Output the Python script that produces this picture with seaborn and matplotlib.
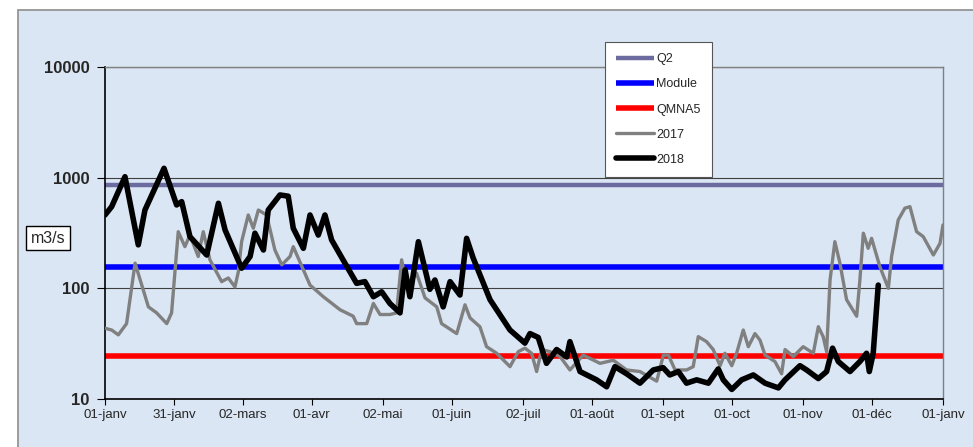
import numpy as np
import pandas as pd
import matplotlib
matplotlib.use("Agg")
import matplotlib.pyplot as plt
from matplotlib.patches import Rectangle
import seaborn as sns

# ===============================
# Data
# ===============================
Q2 = 850
MODULE = 157
QMNA5 = 24.3

tick_days = [0, 30, 60, 90, 121, 151, 182, 212, 243, 273, 304, 334, 365]
tick_labels = ["01-janv", "31-janv", "02-mars", "01-avr", "02-mai", "01-juin",
               "02-juil", "01-août", "01-sept", "01-oct", "01-nov", "01-déc", "01-janv"]

days_2018 = [0, 2.9, 8.7, 14.5, 17.4, 25.7, 31.2, 33.4, 37, 44.3, 49.4, 52.3,
             59.5, 63.2, 65.3, 69, 71.1, 76.2, 79.8, 82, 86.4, 89.3, 92.9, 95.8,
             98.7, 104.5, 109.6, 113.2, 116.9, 120.5, 124.1, 128.5, 130.7, 132.8,
             136.5, 141.5, 143.7, 147.3, 150.3, 154.6, 157.5, 160.4, 167.7, 176.4,
             182.9, 185.1, 188.7, 192.3, 196.7, 201.1, 202.5, 206.9, 214.1, 218.5,
             222.1, 227.2, 233, 238.8, 243.1, 246, 249.7, 253.3, 257.7, 262.8,
             267.1, 269.3, 273, 277.3, 282.4, 287.5, 293.3, 296.2, 302.7, 305.6,
             310.7, 314.3, 316.9, 319.4, 324.5, 328.8, 331.7, 332.9, 334.6, 336.8]
flow_2018 = [460, 547, 1020, 247, 510, 1215, 567, 607, 293, 200, 587, 337,
             152, 194, 315, 222, 510, 698, 680, 349, 230, 460, 303, 460,
             274, 169, 111, 115, 84, 93, 73, 60, 147, 84,
             264, 98, 119, 68, 115, 87, 283, 187, 79, 42,
             32, 39, 36, 21, 28, 24, 33, 17.7, 14.9, 12.9,
             19.6, 16.9, 13.9, 18.3, 19.2, 16.5, 17.7, 13.9, 14.9, 13.9,
             18.7, 14.9, 12.2, 14.9, 16.5, 13.9, 12.6, 14.9, 20, 18.3,
             15.3, 17.7, 28.8, 21.8, 17.7, 21.8, 25.9, 17.7, 25.9, 107]

days_2017 = [0, 2.9, 5.8, 9.4, 13.1, 18.9, 22.5, 26.9, 29, 31.9, 34.8, 37, 40.6,
             42.8, 45.7, 50.8, 53.7, 56.6, 58.1, 59.5, 62.4, 64.6, 66.8, 70.4, 74,
             77, 80.6, 82, 89.3, 95.1, 102.4, 108.1, 109.6, 114, 116.9, 119.8,
             124.1, 127, 129.2, 131.4, 135.7, 139.4, 144.5, 146.6, 153.2, 156.8,
             159, 163.3, 166.2, 170.6, 176.4, 180, 182.9, 185.8, 188, 190.2, 193.8,
             198.2, 202.5, 208.3, 215.6, 221.4, 227.2, 233, 240.3, 243.2, 245.4,
             248.3, 253.3, 256.2, 258.4, 262, 264.9, 267.9, 270, 273, 275.1, 278,
             280.2, 283.1, 285.3, 287.5, 291.8, 294.7, 296.2, 299.8, 304.1, 308.5,
             310.7, 312.8, 314.3, 315.8, 317.9, 320.1, 323, 327.4, 328.8, 330.3,
             332.4, 333.9, 337.5, 341.2, 342.6, 345.5, 348.4, 350.6, 353.5, 356.4,
             360.8, 363.7, 365]
flow_2017 = [43.6, 42, 38, 48, 169, 68, 60, 48, 60, 325, 238, 303, 194,
             325, 181, 115, 124, 103, 142, 264, 460, 349, 510, 460, 222,
             163, 194, 238, 107, 84, 64, 56, 48, 48, 73, 58,
             58, 60, 181, 103, 137, 82, 68, 48, 39, 71,
             54, 45, 29.7, 25.9, 19.6, 26.8, 28.8, 25.9, 17.7, 28, 26.8,
             24.2, 18.3, 24.9, 21, 22.4, 18.3, 17.7, 14.5, 24.9, 24.9,
             18.3, 18.3, 19.6, 36.6, 33, 28, 20, 25.9, 20, 25.9, 42,
             29.7, 39, 34, 24.9, 21.8, 16.9, 28, 24.2, 29.7, 25.9,
             45, 36.6, 26.8, 119, 264, 169, 79, 56, 119, 315,
             230, 283, 157, 100, 194, 415, 530, 547, 325, 293,
             200, 255, 374]

df18 = pd.DataFrame({"jour": days_2018, "debit": flow_2018})
df17 = pd.DataFrame({"jour": days_2017, "debit": flow_2017})

# ===============================
# Figure
# ===============================
sns.set_style("white")
plt.rcParams["font.family"] = ["Liberation Sans", "DejaVu Sans"]
plt.rcParams["lines.solid_joinstyle"] = "round"
plt.rcParams["lines.solid_capstyle"] = "round"

bg = "#dae6f3"
fig = plt.figure(figsize=(9.73, 4.47), dpi=100, facecolor="white")
fig.patches.append(Rectangle((18 / 973, -0.01), 1.0, 1 - 10 / 447 + 0.01,
                             transform=fig.transFigure, facecolor=bg,
                             edgecolor="#8c8c8c", lw=1.2, zorder=-10))
ax = fig.add_axes([105 / 973, 1 - 399 / 447, (943 - 105) / 973, (399 - 67) / 447])
ax.set_facecolor("none")

ax.axhline(Q2, color="#6b6b9f", lw=3.2, label="Q2", zorder=2, solid_capstyle="butt")
ax.axhline(MODULE, color="#0000ff", lw=4, label="Module", zorder=2, solid_capstyle="butt")
ax.axhline(QMNA5, color="#ff0000", lw=4, label="QMNA5", zorder=2, solid_capstyle="butt")
sns.lineplot(data=df17, x="jour", y="debit", color="#808080", lw=2.4,
             label="2017", ax=ax, zorder=3)
sns.lineplot(data=df18, x="jour", y="debit", color="black", lw=4,
             label="2018", ax=ax, zorder=4)

ax.set_yscale("log")
ax.set_ylim(10, 10000)
ax.set_xlim(0, 365)
ax.set_yticks([10, 100, 1000, 10000])
ax.set_yticklabels(["10", "100", "1000", "10000"], fontweight="bold", fontsize=12)
ax.yaxis.set_minor_locator(matplotlib.ticker.NullLocator())
ax.set_xticks(tick_days)
ax.set_xticklabels(tick_labels, fontsize=9.5)
ax.tick_params(axis="both", direction="out", length=4, width=0.8, color="black",
               left=True, bottom=True, pad=3)
ax.tick_params(axis="y", length=6, pad=5)
ax.grid(axis="y", which="major", color="#404040", lw=0.8)
ax.set_xlabel("")
ax.set_ylabel("")

for side in ["left", "bottom"]:
    ax.spines[side].set_color("black")
    ax.spines[side].set_linewidth(1.2)
for side in ["top", "right"]:
    ax.spines[side].set_color("#808080")
    ax.spines[side].set_linewidth(1.0)

fig.text(48 / 973, 1 - 238 / 447, "m3/s", fontsize=11.5, ha="center", va="center",
         bbox=dict(boxstyle="square,pad=0.3", facecolor="white", edgecolor="black", lw=1))

leg = ax.legend(loc="upper left", bbox_to_anchor=((605 - 105) / 838, 1 + (67 - 42) / 332),
                frameon=True, fancybox=False, fontsize=9, handlelength=3.0,
                handletextpad=0.2, labelspacing=1.05, borderpad=0.9,
                borderaxespad=0)
leg.get_frame().set_edgecolor("#555555")
leg.get_frame().set_facecolor("white")
leg.get_frame().set_alpha(1)
leg.get_frame().set_linewidth(0.8)

fig.savefig("out.png", dpi=100, facecolor=fig.get_facecolor())
